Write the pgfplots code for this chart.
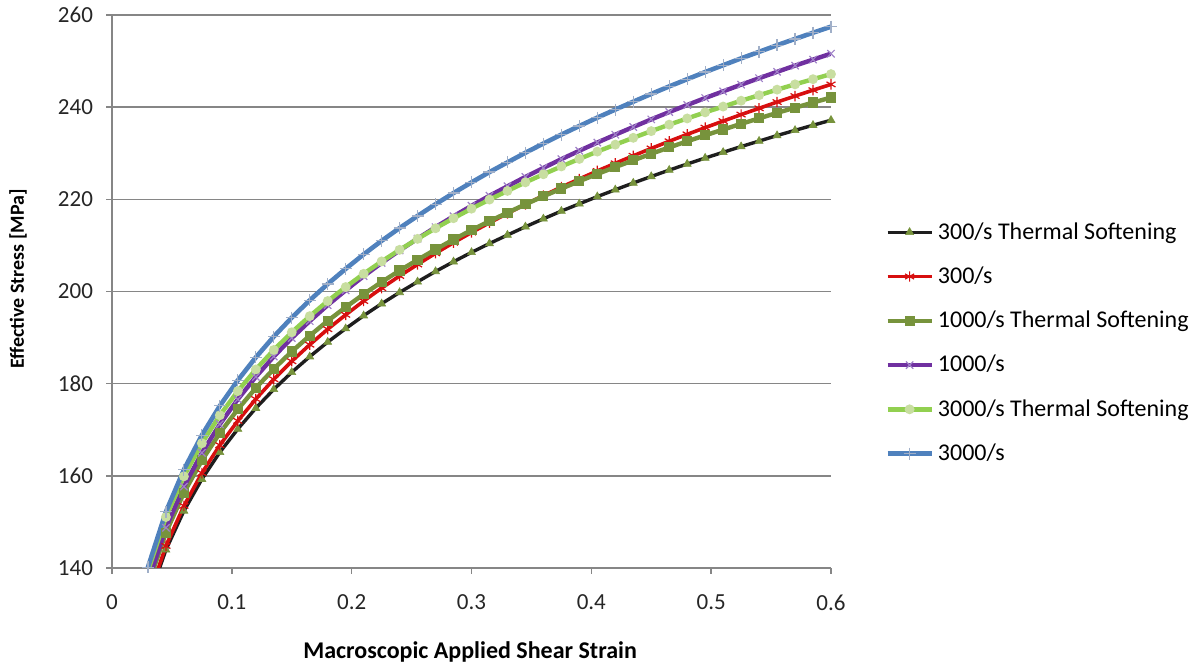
\documentclass[border=0pt]{standalone}
\usepackage{fontspec}
\setmainfont{Carlito}
\usepackage{pgfplots}
\usepackage{pgfplotstable}
\pgfplotsset{compat=1.18}
\definecolor{cblack}{RGB}{30,30,30}
\definecolor{colive}{RGB}{119,147,60}
\definecolor{cred}{RGB}{215,15,15}
\definecolor{cpurple}{RGB}{112,48,160}
\definecolor{cpurplem}{RGB}{160,130,200}
\definecolor{clgreen}{RGB}{146,208,80}
\definecolor{clgreenm}{RGB}{200,222,160}
\definecolor{cblue}{RGB}{79,129,189}
\definecolor{cbluem}{RGB}{160,175,200}
\definecolor{cgrid}{RGB}{134,134,134}

\pgfplotstableread{
x      k       r       o       u       lg      b
0.015  115.49  115.83  118.57  118.98  121.30  121.75
0.030  132.74  133.35  136.23  136.98  139.36  140.17
0.045  143.93  144.79  147.68  148.73  151.06  152.20
0.060  152.38  153.48  156.32  157.67  159.89  161.34
0.075  159.27  160.60  163.35  164.98  167.06  168.82
0.090  165.11  166.66  169.30  171.20  173.14  175.19
0.105  170.16  171.93  174.45  176.61  178.39  180.73
0.120  174.68  176.66  179.05  181.47  183.08  185.70
0.135  178.76  180.95  183.20  185.88  187.31  190.21
0.150  182.47  184.86  186.97  189.90  191.15  194.32
0.165  185.86  188.45  190.40  193.58  194.65  198.09
0.180  189.03  191.82  193.62  197.04  197.93  201.63
0.195  191.95  194.94  196.59  200.25  200.96  204.92
0.210  194.75  197.93  199.42  203.32  203.84  208.06
0.225  197.35  200.73  202.06  206.20  206.53  211.00
0.240  199.80  203.37  204.54  208.91  209.04  213.77
0.255  202.11  205.87  206.87  211.47  211.42  216.40
0.270  204.35  208.29  209.13  213.96  213.72  218.94
0.285  206.46  210.59  211.27  216.33  215.90  221.37
0.300  208.49  212.80  213.31  218.59  217.97  223.68
0.315  210.41  214.91  215.26  220.77  219.95  225.91
0.330  212.25  216.93  217.10  222.83  221.82  228.02
0.345  214.05  218.91  218.92  224.87  223.68  230.11
0.360  215.77  220.81  220.65  226.82  225.44  232.11
0.375  217.45  222.66  222.33  228.72  227.14  234.05
0.390  219.03  224.42  223.94  230.54  228.77  235.91
0.405  220.59  226.16  225.50  232.32  230.36  237.73
0.420  222.08  227.82  227.00  234.03  231.87  239.48
0.435  223.54  229.45  228.46  235.70  233.35  241.19
0.450  224.96  231.05  229.89  237.35  234.80  242.87
0.465  226.34  232.60  231.27  238.94  236.21  244.50
0.480  227.67  234.10  232.59  240.47  237.55  246.07
0.495  228.96  235.56  233.89  241.98  238.87  247.62
0.510  230.21  236.98  235.14  243.43  240.13  249.10
0.525  231.45  238.39  236.38  244.88  241.40  250.59
0.540  232.64  239.75  237.57  246.28  242.59  252.01
0.555  233.84  241.11  238.76  247.67  243.80  253.44
0.570  234.97  242.41  239.89  249.01  244.95  254.81
0.585  236.08  243.69  241.00  250.32  246.07  256.15
0.600  237.17  244.94  242.09  251.61  247.17  257.47
}\datatable

\begin{document}
\begin{tikzpicture}
\path[use as bounding box] (0,0) rectangle (602pt,334.5pt);
\begin{axis}[
  at={(56pt,50.5pt)}, anchor=south west,
  scale only axis, width=359.5pt, height=276.5pt,
  xmin=0, xmax=0.6, ymin=140, ymax=260,
  xtick={0,0.1,0.2,0.3,0.4,0.5,0.6},
  xticklabels={0,0.1,0.2,0.3,0.4,0.5,0.6},
  ytick={140,160,180,200,220,240,260},
  axis x line*=bottom, axis y line*=left,
  axis line style={cgrid, line width=0.7pt, -},
  ymajorgrids, grid style={cgrid, line width=0.7pt},
  tick align=outside, major tick length=3pt,
  tick style={cgrid, line width=0.7pt},
  /pgf/number format/assume math mode=true,
  tick label style={font=\fontsize{11.5}{13}\selectfont, text=black!85},
  xticklabel style={yshift=-7pt},
  yticklabel style={xshift=-3pt},
  xlabel={Macroscopic Applied Shear Strain},
  ylabel={Effective Stress [MPa]},
  xlabel style={at={(axis description cs:0.498,0)}, anchor=center, yshift=-42pt, font=\fontsize{12}{14}\selectfont\bfseries},
  ylabel style={at={(axis description cs:-0.1307,0.523)}, anchor=center, rotate=0, font=\fontsize{10}{12}\selectfont\bfseries},
  clip=true,
  legend style={at={(1.075,0.407)}, anchor=west, draw=none, fill=none,
     font=\fontsize{12}{14}\selectfont, row sep=8.3pt, inner sep=0pt,
     /tikz/every even column/.append style={column sep=0pt}},
  legend cell align=left,
  legend image code/.code={
    \draw[mark repeat=2,mark phase=2,#1] plot coordinates {(0pt,0pt) (11pt,0pt) (22pt,0pt)};
  },
]
\addplot[cblack, line width=1.7pt, mark=triangle*, mark size=2.3pt, mark options={fill=colive, draw=colive, line width=0.3pt}] table[x=x, y=k] {\datatable};
\addlegendentry{300/s Thermal Softening}
\addplot[cred, line width=1.8pt, mark=asterisk, mark size=2.6pt, mark options={draw=cred, line width=0.6pt}] table[x=x, y=r] {\datatable};
\addlegendentry{300/s}
\addplot[colive, line width=2.2pt, mark=square*, mark size=1.45pt, mark options={fill=colive, draw=colive}] table[x=x, y=o] {\datatable};
\addlegendentry{1000/s Thermal Softening}
\addplot[cpurple, line width=2.2pt, mark=x, mark size=2.6pt, mark options={draw=cpurplem, line width=0.6pt}] table[x=x, y=u] {\datatable};
\addlegendentry{1000/s}
\addplot[clgreen, line width=2.2pt, mark=*, mark size=1.3pt, mark options={fill=clgreenm, draw=clgreenm}] table[x=x, y=lg] {\datatable};
\addlegendentry{3000/s Thermal Softening}
\addplot[cblue, line width=2.3pt, mark=+, mark size=3pt, mark options={draw=cbluem, line width=0.6pt}] table[x=x, y=b] {\datatable};
\addlegendentry{3000/s}
\end{axis}
\end{tikzpicture}
\end{document}
